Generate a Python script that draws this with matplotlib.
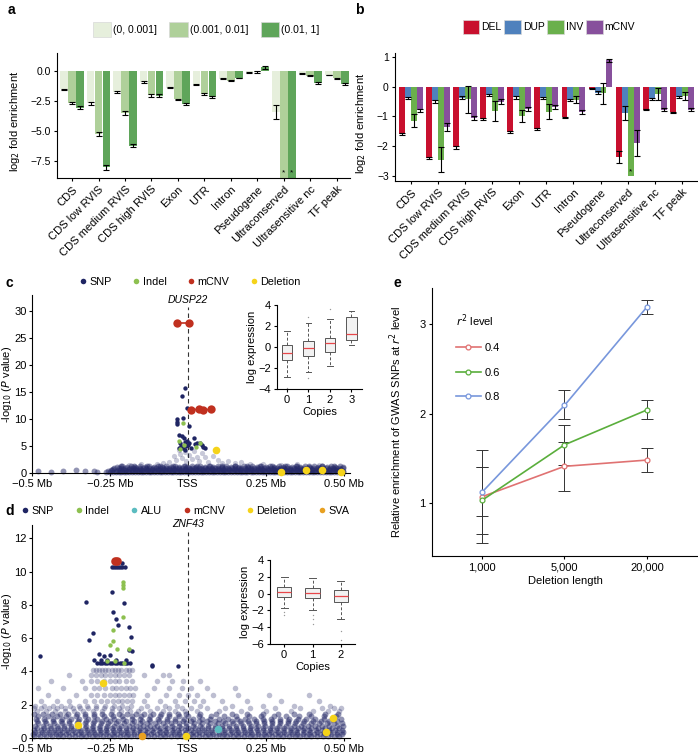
import matplotlib
matplotlib.use('Agg')
import matplotlib.pyplot as plt
from matplotlib.patches import Patch
from matplotlib.lines import Line2D
import numpy as np

plt.rcParams['font.family'] = ['Liberation Sans', 'DejaVu Sans']
plt.rcParams['font.size'] = 7.5
plt.rcParams['axes.linewidth'] = 0.8
plt.rcParams['xtick.major.width'] = 0.8
plt.rcParams['ytick.major.width'] = 0.8
plt.rcParams['xtick.major.size'] = 2.5
plt.rcParams['ytick.major.size'] = 2.5
plt.rcParams['xtick.major.pad'] = 2
plt.rcParams['ytick.major.pad'] = 2
plt.rcParams['xtick.labelsize'] = 7.5
plt.rcParams['ytick.labelsize'] = 7.5

# ---------------- data ----------------
categories = ['CDS', 'CDS low RVIS', 'CDS medium RVIS', 'CDS high RVIS', 'Exon', 'UTR',
              'Intron', 'Pseudogene', 'Ultraconserved', 'Ultrasensitive nc', 'TF peak']

# panel a
a_bins = ['(0, 0.001]', '(0.001, 0.01]', '(0.01, 1]']
a_low = [-1.52, -2.7, -1.75, -0.92, -1.38, -1.12, -0.65, -0.12, -3.4, -0.2, -0.33]
a_low_err = [0.05, 0.1, 0.1, 0.07, 0.05, 0.05, 0.03, 0.05, 0.55, 0.04, 0.04]
a_mid = [-2.66, -5.25, -3.5, -2.0, -2.36, -1.88, -0.8, -0.08, -8.9, -0.4, -0.6]
a_mid_err = [0.08, 0.15, 0.15, 0.12, 0.07, 0.08, 0.04, 0.07, 0.0, 0.05, 0.05]
a_high = [-3.05, -8.0, -6.2, -2.05, -2.72, -2.16, -0.58, 0.3, -8.9, -1.03, -1.08]
a_high_err = [0.1, 0.2, 0.15, 0.12, 0.08, 0.1, 0.04, 0.1, 0.0, 0.08, 0.07]

# panel b
b_types = ['DEL', 'DUP', 'INV', 'mCNV']
b_del = [-1.58, -2.4, -2.04, -1.08, -1.52, -1.41, -1.03, -0.07, -2.36, -0.77, -0.86]
b_del_err = [0.03, 0.04, 0.04, 0.03, 0.03, 0.03, 0.02, 0.02, 0.21, 0.02, 0.02]
b_dup = [-0.38, -0.49, -0.38, -0.28, -0.36, -0.38, -0.45, -0.2, -0.89, -0.42, -0.36]
b_dup_err = [0.04, 0.05, 0.05, 0.04, 0.04, 0.04, 0.03, 0.04, 0.23, 0.03, 0.03]
b_inv = [-1.14, -2.45, -0.42, -0.82, -1.0, -0.85, -0.44, -0.23, -3.0, -0.24, -0.31]
b_inv_err = [0.21, 0.43, 0.45, 0.35, 0.2, 0.25, 0.12, 0.35, 0.0, 0.2, 0.13]
b_mcnv = [-0.8, -1.36, -1.05, -0.5, -0.76, -0.68, -0.85, 0.88, -1.89, -0.77, -0.77]
b_mcnv_err = [0.05, 0.14, 0.08, 0.07, 0.06, 0.07, 0.06, 0.06, 0.44, 0.04, 0.05]

# panel c (x in kb relative to TSS, y = -log10 P)
c_cloud_rows = [
    (0.1, [-262, -240, -221, -205, -188, -170, -151, -133, -118, -99, -82, -64, -47, -30, -12, 5, 22, 41, 58, 77,
           93, 112, 130, 148, 166, 183, 201, 219, 238, 255, 272, 290, 309, 326, 344, 361, 380, 398, 415, 433,
           452, 470, 488]),
    (0.22, [-250, -229, -214, -197, -180, -161, -144, -126, -108, -90, -73, -55, -38, -21, -3, 14, 31, 49, 67, 85,
            102, 120, 138, 156, 174, 191, 209, 227, 245, 263, 281, 299, 317, 335, 352, 370, 388, 406, 424, 442,
            460, 478, 496]),
    (0.35, [-255, -231, -210, -193, -176, -157, -140, -121, -104, -86, -69, -51, -35, -17, 0, 17, 35, 52, 70, 88,
            106, 123, 141, 159, 177, 195, 212, 230, 248, 266, 284, 301, 319, 337, 355, 372, 390, 408, 426, 444,
            462, 480, 497]),
    (0.48, [-243, -219, -203, -184, -166, -150, -131, -114, -96, -79, -60, -43, -26, -8, 9, 26, 44, 61, 79, 97,
            114, 132, 150, 168, 186, 203, 221, 239, 257, 275, 292, 310, 328, 346, 364, 381, 399, 417, 435, 453,
            471, 489]),
    (0.6, [-248, -225, -199, -180, -162, -146, -127, -110, -92, -75, -57, -40, -22, -5, 12, 29, 47, 64, 82, 100,
           117, 135, 153, 171, 189, 206, 224, 242, 260, 278, 296, 313, 331, 349, 367, 384, 402, 420, 438, 456,
           474, 492]),
    (0.72, [-240, -208, -190, -171, -152, -135, -116, -97, -78, -61, -44, -27, -9, 8, 25, 43, 60, 78, 96, 113,
            131, 149, 167, 185, 202, 220, 238, 256, 274, 291, 309, 327, 345, 363, 380, 398, 416, 434, 452, 470,
            488]),
    (0.85, [-236, -213, -186, -166, -144, -124, -101, -80, -60, -38, -18, 3, 24, 44, 66, 87, 108, 129, 150, 171,
            192, 213, 234, 255, 276, 297, 318, 339, 360, 381, 402, 423, 444, 465, 486]),
    (1.0, [-222, -201, -177, -155, -133, -112, -91, -70, -49, -28, -7, 14, 35, 56, 77, 98, 119, 140, 161, 182,
           203, 224, 245, 266, 287, 308, 329, 350, 371, 392, 413, 434, 455, 476, 497]),
    (1.1, [-228, -196, -170, -138, -110, -84, -55, -28, -2, 26, 54, 81, 109, 137, 165, 193, 221, 249, 277, 305,
           333, 361, 389, 417, 445, 473, 498]),
    (1.22, [-210, -182, -152, -124, -96, -69, -41, -14, 13, 40, 68, 95, 123, 151, 179, 207, 235, 263, 291, 319,
            347, 375, 403, 431, 459, 487]),
    (1.35, [-215, -172, -130, -90, -48, -10, 30, 70, 110, 150, 190, 230, 270, 310, 350, 390, 430, 470]),
]
c_cloud_extra = [(-480, 0.3), (-440, 0.2), (-400, 0.4), (-360, 0.5), (-330, 0.3), (-300, 0.45), (-290, 0.2),
                 (-60, 2.0), (-45, 3.1), (-38, 2.5), (-30, 4.2), (-25, 3.6), (-18, 2.8), (-10, 3.9), (-5, 2.2),
                 (5, 3.3), (12, 2.6), (20, 4.0), (28, 3.0), (35, 2.3), (45, 3.7), (55, 2.9), (65, 2.1), (80, 3.2),
                 (95, 2.4), (110, 1.9), (130, 2.2), (-80, 1.8), (-100, 1.7), (150, 1.8), (170, 2.0), (200, 1.7),
                 (-150, 1.6), (-190, 1.5), (240, 1.6), (300, 1.5), (350, 1.6), (420, 1.5)]
c_snp = [(-10, 15.7), (-20, 14.2), (-4, 12.1), (3, 8.8), (-35, 10.1), (-35, 9.5), (-35, 9.0), (-17, 10.2),
         (-27, 7.0), (-20, 6.9), (-14, 6.4), (-8, 5.7), (-3, 5.9), (0, 5.2), (4, 5.6), (20, 6.4), (24, 5.3),
         (30, 5.6), (38, 5.6), (44, 5.2), (50, 4.9), (55, 4.6), (-25, 5.6), (-22, 5.0), (-30, 4.6), (-16, 4.6),
         (-10, 4.3), (10, 4.6), (-5, 5.0)]
c_indel = [(-17, 9.3), (-30, 5.9), (25, 4.9), (40, 5.5), (-12, 5.2), (-24, 4.4)]
c_deletion = [(90, 4.2), (300, 0.2), (380, 0.5), (430, 0.5), (490, 0.2)]
c_mcnv_groups = [([-35, 3], [27.8, 27.8]), ([10, 36, 50, 75], [11.6, 11.9, 11.6, 11.9])]

# panel c inset box plots
c_box_copies = ['0', '1', '2', '3']
c_box_med = [-0.6, -0.1, 0.35, 1.2]
c_box_q1 = [-1.2, -0.85, -0.45, 0.7]
c_box_q3 = [0.2, 0.55, 0.9, 2.9]
c_box_lo = [-2.9, -2.4, -1.85, 0.2]
c_box_hi = [1.5, 2.25, 2.7, 3.4]
c_box_fliers = [[-3.9], [2.9, -3.0], [3.6], []]

# panel d
d_cloud_rows = [
    (0.1, [-495, -475, -455, -436, -418, -400, -381, -362, -344, -326, -307, -290, -272, -254, -236, -218, -200,
           -182, -163, -145, -127, -108, -90, -72, -54, -36, -18, 0, 18, 36, 54, 72, 90, 108, 126, 144, 162, 180,
           198, 216, 234, 252, 270, 288, 306, 324, 342, 360, 378, 396, 414, 432, 450, 468, 486]),
    (0.22, [-498, -480, -461, -443, -424, -409, -390, -371, -353, -335, -316, -299, -281, -263, -245, -227, -209,
            -191, -172, -154, -136, -117, -99, -81, -63, -45, -27, -9, 9, 27, 45, 63, 81, 99, 117, 135, 153, 171,
            189, 207, 225, 243, 261, 279, 297, 315, 333, 351, 369, 387, 405, 423, 441, 459, 477, 495]),
    (0.35, [-490, -468, -447, -426, -405, -384, -363, -342, -321, -300, -279, -258, -237, -216, -195, -174, -153,
            -132, -111, -90, -69, -48, -27, -6, 15, 36, 57, 78, 99, 120, 141, 162, 183, 204, 225, 246, 267, 288,
            309, 330, 351, 372, 393, 414, 435, 456, 477, 498]),
    (0.48, [-494, -472, -451, -430, -409, -388, -367, -346, -325, -304, -283, -262, -241, -220, -199, -178, -157,
            -136, -115, -94, -73, -52, -31, -10, 11, 32, 53, 74, 95, 116, 137, 158, 179, 200, 221, 242, 263, 284,
            305, 326, 347, 368, 389, 410, 431, 452, 473, 494]),
    (0.6, [-485, -462, -440, -418, -396, -374, -352, -330, -308, -286, -264, -242, -220, -198, -176, -154, -132,
           -110, -88, -66, -44, -22, 0, 22, 44, 66, 88, 110, 132, 154, 176, 198, 220, 242, 264, 286, 308, 330,
           352, 374, 396, 418, 440, 462, 484]),
    (0.75, [-490, -466, -443, -420, -397, -374, -351, -328, -305, -282, -259, -236, -213, -190, -167, -144, -121,
            -98, -75, -52, -29, -6, 17, 40, 63, 86, 109, 132, 155, 178, 201, 224, 247, 270, 293, 316, 339, 362,
            385, 408, 431, 454, 477, 499]),
    (0.9, [-480, -455, -430, -405, -380, -355, -330, -305, -280, -255, -230, -205, -180, -155, -130, -105, -80,
           -55, -30, -5, 20, 45, 70, 95, 120, 145, 170, 195, 220, 245, 270, 295, 320, 345, 370, 395, 420, 445,
           470, 495]),
    (1.02, [-484, -458, -432, -406, -380, -354, -328, -302, -276, -250, -224, -198, -172, -146, -120, -94, -68,
            -42, -16, 10, 36, 62, 88, 114, 140, 166, 192, 218, 244, 270, 296, 322, 348, 374, 400, 426, 452, 478]),
    (1.15, [-488, -460, -432, -404, -376, -348, -320, -292, -264, -236, -208, -180, -152, -124, -96, -68, -40,
            -12, 16, 44, 72, 100, 128, 156, 184, 212, 240, 268, 296, 324, 352, 380, 408, 436, 464, 492]),
    (1.3, [-480, -450, -420, -390, -360, -330, -300, -270, -240, -210, -180, -150, -120, -90, -60, -30, 0, 35,
           75, 115, 155, 195, 235, 275, 315, 355, 395, 435, 475]),
    (1.45, [-492, -465, -437, -410, -383, -356, -329, -302, -275, -248, -221, -194, -167, -140, -113, -86, -59,
            -32, -5, 40, 90, 140, 190, 240, 290, 340, 390, 440, 480]),
    (1.65, [-485, -455, -425, -395, -365, -335, -305, -275, -245, -215, -185, -160, -120, -80, -40, -10, 30, 100,
            170, 250, 330, 400, 450, 485]),
    (1.8, [-495, -470, -445, -420, -395, -370, -345, -320, -295, -270, -245, -220, -195, -150, -100, -60, -20, 10,
           60, 120, 200, 280, 360, 430, 470, 490]),
    (1.95, [-490, -462, -434, -406, -378, -350, -322, -294, -266, -238, -210, -182, -130, -75, -35, 40, 140, 240,
            340, 455]),
    (2.2, [-470, -420, -380, -330, -300, -280, -260, -240, -225, -210, -195, -180, -140, -90, -40, -10, 20, 50,
           110, 190, 300, 420]),
    (2.6, [-450, -360, -310, -290, -270, -250, -235, -220, -205, -190, -175, -130, -70, -30, 0, 30, 80, 160, 260,
           390]),
    (3.0, [-480, -400, -330, -300, -285, -265, -245, -230, -215, -200, -185, -170, -110, -60, -20, 10, 60, 150]),
    (3.4, [-440, -340, -310, -290, -270, -250, -235, -220, -200, -180, -100, -50, -15, 40]),
    (3.8, [-380, -310, -295, -280, -265, -250, -235, -220, -205, -190, -140, -80, -60]),
    (4.1, [-305, -295, -285, -275, -265, -255, -245, -235, -225, -215, -200, -190, -180]),
]
d_snp = [(-474, 4.93), (-327, 8.16), (-303, 6.33), (-318, 5.9), (-286, 5.07), (-268, 4.9), (-250, 4.97),
         (-243, 8.76), (-241, 7.6), (-232, 7.17), (-225, 6.8), (-245, 10.3), (-238, 10.3), (-231, 10.3),
         (-224, 10.3), (-217, 10.3), (-210, 10.3), (-203, 10.3), (-210, 10.5), (-206, 8.1), (-189, 6.7),
         (-184, 6.07), (-180, 5.23), (-190, 5.3), (-114, 4.4), (-114, 4.3), (-33, 4.3),
         (-290, 4.5), (-282, 4.5), (-274, 4.5), (-266, 4.5), (-258, 4.5), (-250, 4.5), (-242, 4.5), (-234, 4.5),
         (-226, 4.5), (-218, 4.5), (-210, 4.5), (-202, 4.5), (-194, 4.5), (-186, 4.5),
         (-300, 4.7), (-280, 4.7), (-260, 4.7), (-230, 4.7), (-200, 4.7)]
d_indel = [(-240, 6.5), (-240, 5.8), (-207, 9.4), (-207, 9.2), (-207, 9.0), (-207, 7.3), (-226, 5.36),
           (-250, 5.6), (-190, 5.35), (-260, 4.6), (-235, 4.6), (-205, 4.5)]
d_alu = [(96, 0.54)]
d_mcnv = [(-235, 10.65), (-228, 10.65)]
d_deletion = [(-273, 3.3), (-354, 0.78), (-6, 0.1), (466, 1.22), (444, 0.34)]
d_sva = [(-146, 0.14)]

d_box_copies = ['0', '1', '2']
d_box_med = [0.25, 0.1, -0.3]
d_box_q1 = [-0.35, -0.5, -0.95]
d_box_q3 = [0.75, 0.7, 0.45]
d_box_lo = [-1.75, -1.95, -3.05]
d_box_hi = [2.0, 1.8, 1.5]
d_box_fliers = [[-2.2, -2.6], [-2.5, -3.0, -3.6], [-4.5, -5.5]]

# panel e
e_lengths = ['1,000', '5,000', '20,000']
e_levels = ['0.4', '0.6', '0.8']
e_vals = [[1.07, 1.41, 1.48], [1.03, 1.65, 2.04], [1.12, 2.09, 3.19]]
e_lo = [[0.55, 1.13, 1.35], [0.65, 1.42, 1.94], [0.85, 1.94, 3.11]]
e_hi = [[1.59, 1.68, 1.61], [1.40, 1.87, 2.15], [1.40, 2.26, 3.27]]

# ---------------- styles ----------------
A_COLORS = ['#e6efdc', '#afd09a', '#5fa55a']
B_COLORS = ['#c8102e', '#4f81bd', '#6ab04c', '#87509c']
E_COLORS = ['#e07272', '#5aae3c', '#7897dc']
C_SNP = '#1f2563'
C_INDEL = '#8dc050'
C_ALU = '#5bbcc0'
C_MCNV = '#c0301f'
C_DEL = '#f5d31a'
C_SVA = '#e8a020'
CLOUD = '#262a68'

W, H = 698, 754


def px(l, t, r, b):
    return [l / W, 1 - b / H, (r - l) / W, (b - t) / H]


fig = plt.figure(figsize=(W / 100, H / 100), dpi=100)


def clean(ax):
    ax.spines['top'].set_visible(False)
    ax.spines['right'].set_visible(False)


# ---------------- panel a ----------------
ax = fig.add_axes(px(57, 53, 350, 178))
clean(ax)
xpos = np.arange(len(categories))
for k, (vals, errs) in enumerate([(a_low, a_low_err), (a_mid, a_mid_err), (a_high, a_high_err)]):
    xs = xpos + (k - 1) * 0.3
    ax.bar(xs, vals, width=0.29, color=A_COLORS[k], edgecolor='none', label=a_bins[k])
    ve = [e if e > 0 else np.nan for e in errs]
    ax.errorbar(xs, vals, yerr=ve, fmt='none', ecolor='black', elinewidth=0.8, capsize=2.2, capthick=0.8)
    for x, v, e in zip(xs, vals, errs):
        if e == 0 and v <= -8.8:
            ax.text(x, v + 0.45, '*', ha='center', va='center', fontsize=6)
ax.set_ylim(-8.9, 1.5)
ax.set_xlim(-0.57, 10.5)
ax.set_yticks([0, -2.5, -5, -7.5])
ax.set_yticklabels(['0.0', '\u22122.5', '\u22125.0', '\u22127.5'])
ax.set_xticks(xpos)
ax.set_xticklabels(categories, rotation=45, ha='right', rotation_mode='anchor', fontsize=8)
ax.set_ylabel('log$_2$ fold enrichment', fontsize=8)
ax.yaxis.set_label_coords(-0.118, 0.45)
fig.legend(handles=[Patch(facecolor=c, edgecolor='#d8d8d8', linewidth=0.5) for c in A_COLORS],
           labels=a_bins, loc='center', bbox_to_anchor=(206 / W, 1 - 29.5 / H), ncol=3, frameon=False,
           handlelength=1.8, handleheight=1.7, handletextpad=0.15, columnspacing=1.2, borderpad=0,
           fontsize=7.5)
fig.text(8 / W, 1 - 10 / H, 'a', fontsize=10, fontweight='bold', va='center')

# ---------------- panel b ----------------
ax = fig.add_axes(px(395, 53, 698, 181))
clean(ax)
b_series = [(b_del, b_del_err), (b_dup, b_dup_err), (b_inv, b_inv_err), (b_mcnv, b_mcnv_err)]
for k, (vals, errs) in enumerate(b_series):
    xs = xpos + (k - 1.5) * 0.22
    ax.bar(xs, vals, width=0.22, color=B_COLORS[k], edgecolor='none', label=b_types[k])
    ve = [e if e > 0 else np.nan for e in errs]
    ax.errorbar(xs, vals, yerr=ve, fmt='none', ecolor='black', elinewidth=0.8, capsize=2.0, capthick=0.8)
    for x, v, e in zip(xs, vals, errs):
        if e == 0 and v <= -2.9:
            ax.text(x, v + 0.15, '*', ha='center', va='center', fontsize=6)
ax.set_ylim(-3.17, 1.13)
ax.set_xlim(-0.59, 10.6)
ax.set_yticks([1, 0, -1, -2, -3])
ax.set_yticklabels(['1', '0', '\u22121', '\u22122', '\u22123'])
ax.set_xticks(xpos)
ax.set_xticklabels(categories, rotation=45, ha='right', rotation_mode='anchor', fontsize=8)
ax.set_ylabel('log$_2$ fold enrichment', fontsize=8)
ax.yaxis.set_label_coords(-0.089, 0.45)
fig.legend(handles=[Patch(facecolor=c, edgecolor='#d8d8d8', linewidth=0.5) for c in B_COLORS],
           labels=b_types, loc='center', bbox_to_anchor=(549 / W, 1 - 27 / H), ncol=4, frameon=False,
           handlelength=1.6, handleheight=1.7, handletextpad=0.2, columnspacing=0.25, borderpad=0,
           fontsize=7.5)
fig.text(355 / W, 1 - 10 / H, 'b', fontsize=10, fontweight='bold', va='center')


# ---------------- helper for regional plots ----------------
def cloud_xy(rows, extra=(), ymin=-1, ymax=99):
    xs, ys = [], []
    for y, row in rows:
        if ymin <= y < ymax:
            xs += [x / 1000 for x in row]
            ys += [y] * len(row)
    for x, y in extra:
        if ymin <= y < ymax:
            xs.append(x / 1000)
            ys.append(y)
    return xs, ys


def pts(lst):
    return [p[0] / 1000 for p in lst], [p[1] for p in lst]


def region_axes(ax, ymax, yticks, gene, vline_top):
    clean(ax)
    ax.set_xlim(-0.5, 0.52)
    ax.set_ylim(0, ymax)
    ax.set_xticks([-0.5, -0.25, 0, 0.25, 0.5])
    ax.set_xticklabels(['\u22120.5 Mb', '\u22120.25 Mb', 'TSS', '0.25 Mb', '0.50 Mb'], fontsize=8)
    ax.set_yticks(yticks)
    ax.tick_params(axis='y', labelsize=8, pad=1.5)
    ax.set_ylabel('-log$_{10}$ ($P$ value)', fontsize=8)
    ax.yaxis.set_label_coords(-0.058, 0.5)
    ax.axvline(0, ymin=0, ymax=vline_top / ymax, color='#333333', ls=(0, (4, 3)), lw=0.8, zorder=1)
    ax.text(0, vline_top + 0.012 * ymax, gene, style='italic', ha='center', va='bottom', fontsize=7.5)


def leg_handle(c):
    return Line2D([], [], marker='o', ls='', color=c, markersize=4, markeredgewidth=0)


# ---------------- panel c ----------------
ax = fig.add_axes(px(32, 295, 350, 473))
region_axes(ax, 33, [0, 5, 10, 15, 20, 25, 30], 'DUSP22', 30.8)
cx, cy = cloud_xy(c_cloud_rows, c_cloud_extra, ymax=1.5)
ax.scatter(cx, cy, s=18, color=CLOUD, alpha=0.5, linewidths=0, zorder=2, clip_on=False)
cx, cy = cloud_xy(c_cloud_rows, c_cloud_extra, ymin=1.5)
ax.scatter(cx, cy, s=14, color=CLOUD, alpha=0.25, linewidths=0, zorder=2, clip_on=False)
x, y = pts(c_snp)
ax.scatter(x, y, s=10, color=C_SNP, linewidths=0, zorder=3)
x, y = pts(c_indel)
ax.scatter(x, y, s=10, color=C_INDEL, linewidths=0, zorder=3)
x, y = pts(c_deletion)
ax.scatter(x, y, s=30, color=C_DEL, linewidths=0, zorder=4, clip_on=False)
for gx, gy in c_mcnv_groups:
    ax.plot([v / 1000 for v in gx], gy, '-o', color=C_MCNV, lw=1.2, ms=6, mew=0, zorder=5)
fig.legend(handles=[leg_handle(c) for c in [C_SNP, C_INDEL, C_MCNV, C_DEL]],
           labels=['SNP', 'Indel', 'mCNV', 'Deletion'], loc='center left',
           bbox_to_anchor=(75 / W, 1 - 282 / H), ncol=4, frameon=False, borderpad=0,
           handlelength=0.5, handletextpad=0.35, columnspacing=2.0, fontsize=7.8)
fig.text(5 / W, 1 - 283 / H, 'c', fontsize=10, fontweight='bold', va='center')


def inset_box(axi, med, q1, q3, lo, hi, fl, labels, ylim, yticks):
    stats = []
    for i in range(len(med)):
        stats.append(dict(med=med[i], q1=q1[i], q3=q3[i], whislo=lo[i], whishi=hi[i], fliers=fl[i]))
    axi.bxp(stats, positions=list(range(len(med))), widths=0.5, patch_artist=True,
            boxprops=dict(facecolor='#f2f2f2', edgecolor='#555555', linewidth=0.7),
            medianprops=dict(color='#e8464a', linewidth=0.9),
            whiskerprops=dict(color='#555555', linewidth=0.7, linestyle=(0, (3, 2))),
            capprops=dict(color='#555555', linewidth=0.7),
            flierprops=dict(marker='.', markersize=2, markerfacecolor='#999999', markeredgecolor='none'))
    clean(axi)
    axi.set_facecolor('none')
    axi.set_ylim(*ylim)
    axi.set_yticks(yticks)
    axi.set_yticklabels([str(t).replace('-', '\u2212') for t in yticks], fontsize=8)
    axi.set_xticks(range(len(med)))
    axi.set_xticklabels(labels, fontsize=8)
    axi.set_xlabel('Copies', labelpad=1, fontsize=8)
    axi.set_ylabel('log expression', labelpad=1, fontsize=8)


axi = fig.add_axes(px(277, 305, 362, 389))
inset_box(axi, c_box_med, c_box_q1, c_box_q3, c_box_lo, c_box_hi, c_box_fliers, c_box_copies,
          (-4, 4), [-4, -2, 0, 2, 4])
axi.set_xlim(-0.47, 3.5)

# ---------------- panel d ----------------
ax = fig.add_axes(px(32, 525, 350, 738))
region_axes(ax, 12.8, [0, 2, 4, 6, 8, 10, 12], 'ZNF43', 12.4)
dx, dy = cloud_xy(d_cloud_rows, ymax=1.6)
ax.scatter(dx, dy, s=18, color=CLOUD, alpha=0.5, linewidths=0, zorder=2, clip_on=False)
dx, dy = cloud_xy(d_cloud_rows, ymin=1.6)
ax.scatter(dx, dy, s=16, color=CLOUD, alpha=0.3, linewidths=0, zorder=2, clip_on=False)
x, y = pts(d_snp)
ax.scatter(x, y, s=10, color=C_SNP, linewidths=0, zorder=3)
x, y = pts(d_indel)
ax.scatter(x, y, s=10, color=C_INDEL, linewidths=0, zorder=3)
x, y = pts(d_alu)
ax.scatter(x, y, s=30, color=C_ALU, linewidths=0, zorder=4)
x, y = pts(d_deletion)
ax.scatter(x, y, s=30, color=C_DEL, linewidths=0, zorder=4, clip_on=False)
x, y = pts(d_sva)
ax.scatter(x, y, s=30, color=C_SVA, linewidths=0, zorder=4, clip_on=False)
x, y = pts(d_mcnv)
ax.scatter(x, y, s=38, color=C_MCNV, linewidths=0, zorder=5)
fig.legend(handles=[leg_handle(c) for c in [C_SNP, C_INDEL, C_ALU, C_MCNV, C_DEL, C_SVA]],
           labels=['SNP', 'Indel', 'ALU', 'mCNV', 'Deletion', 'SVA'], loc='center left',
           bbox_to_anchor=(17 / W, 1 - 511 / H), ncol=6, frameon=False, borderpad=0,
           handlelength=0.5, handletextpad=0.35, columnspacing=2.05, fontsize=7.8)
fig.text(5 / W, 1 - 511 / H, 'd', fontsize=10, fontweight='bold', va='center')

axi = fig.add_axes(px(270, 560, 355, 644))
inset_box(axi, d_box_med, d_box_q1, d_box_q3, d_box_lo, d_box_hi, d_box_fliers, d_box_copies,
          (-6, 4), [-6, -4, -2, 0, 2, 4])
axi.set_xlim(-0.5, 2.5)

# ---------------- panel e ----------------
ax = fig.add_axes(px(432, 288, 698, 556))
clean(ax)
epos = np.arange(len(e_lengths))
for k in range(len(e_levels)):
    v = np.array(e_vals[k])
    lo = v - np.array(e_lo[k])
    hi = np.array(e_hi[k]) - v
    ax.errorbar(epos, v, yerr=[lo, hi], fmt='none', ecolor='#333333', elinewidth=0.7, capsize=4,
                capthick=0.7, zorder=2)
handles = []
for k in range(len(e_levels)):
    ln, = ax.plot(epos, e_vals[k], '-o', color=E_COLORS[k], lw=1.2, ms=3.5, mfc='white', mew=0.9,
                  zorder=3, label=e_levels[k])
    handles.append(ln)
ax.set_xlim(-0.606, 2.62)
ax.set_ylim(0.408, 3.403)
ax.set_yticks([1, 2, 3])
ax.set_xticks(epos)
ax.set_xticklabels(e_lengths, fontsize=8)
ax.tick_params(axis='y', labelsize=8)
ax.set_xlabel('Deletion length', labelpad=3, fontsize=8)
ax.set_ylabel('Relative enrichment of GWAS SNPs at $r^2$ level', fontsize=8)
ax.yaxis.set_label_coords(-0.105, 0.5)
leg = ax.legend(handles=handles, labels=e_levels, title='$r^2$ level', loc='upper left',
                bbox_to_anchor=(0.07, 0.93), frameon=False, handlelength=2.2, handletextpad=0.4,
                labelspacing=1.3, fontsize=8, title_fontsize=8, borderpad=0)
leg._legend_box.align = 'left'
fig.text(393 / W, 1 - 283 / H, 'e', fontsize=10, fontweight='bold', va='center')

fig.savefig('out.png', dpi=100)
